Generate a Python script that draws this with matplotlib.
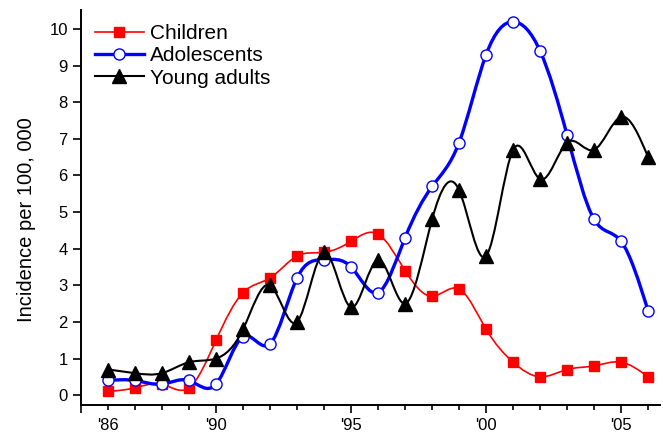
import numpy as np
import matplotlib.pyplot as plt
from matplotlib.path import Path
from matplotlib.patches import PathPatch
from matplotlib.lines import Line2D
from matplotlib.ticker import FixedLocator, FixedFormatter

plt.rcParams['font.family'] = ['Liberation Sans', 'DejaVu Sans']

years = list(range(1986, 2007))
children = [0.1, 0.2, 0.3, 0.2, 1.5, 2.8, 3.2, 3.8, 3.9, 4.2, 4.4,
            3.4, 2.7, 2.9, 1.8, 0.9, 0.5, 0.7, 0.8, 0.9, 0.5]
adolescents = [0.4, 0.4, 0.3, 0.4, 0.3, 1.6, 1.4, 3.2, 3.7, 3.5, 2.8,
               4.3, 5.7, 6.9, 9.3, 10.2, 9.4, 7.1, 4.8, 4.2, 2.3]
young_adults = [0.7, 0.6, 0.6, 0.9, 1.0, 1.8, 3.0, 2.0, 3.9, 2.4, 3.7,
                2.5, 4.8, 5.6, 3.8, 6.7, 5.9, 6.9, 6.7, 7.6, 6.5]

major_years = [1985, 1990, 1995, 2000, 2005]
major_labels = ['', "'90", "'95", "'00", "'05"]
minor_years = [y for y in years if y not in major_years]
minor_labels = ["'86" if y == 1986 else '' for y in minor_years]


def smooth_path(x, y):
    # natural cubic spline through the points, drawn as bezier segments
    x = np.asarray(x, float)
    y = np.asarray(y, float)
    n = len(x)
    h = np.diff(x)
    A = np.zeros((n, n))
    b = np.zeros(n)
    A[0, 0], A[0, 1] = 2 / h[0], 1 / h[0]
    b[0] = 3 * (y[1] - y[0]) / h[0] ** 2
    A[-1, -2], A[-1, -1] = 1 / h[-1], 2 / h[-1]
    b[-1] = 3 * (y[-1] - y[-2]) / h[-1] ** 2
    for i in range(1, n - 1):
        A[i, i - 1] = 1 / h[i - 1]
        A[i, i] = 2 / h[i - 1] + 2 / h[i]
        A[i, i + 1] = 1 / h[i]
        b[i] = 3 * ((y[i] - y[i - 1]) / h[i - 1] ** 2 + (y[i + 1] - y[i]) / h[i] ** 2)
    m = np.linalg.solve(A, b)
    verts = [(x[0], y[0])]
    codes = [Path.MOVETO]
    for i in range(n - 1):
        d = h[i] / 3
        verts += [(x[i] + d, y[i] + d * m[i]),
                  (x[i + 1] - d, y[i + 1] - d * m[i + 1]),
                  (x[i + 1], y[i + 1])]
        codes += [Path.CURVE4] * 3
    return Path(verts, codes)


fig = plt.figure(figsize=(6.63, 4.41), dpi=100)
ax = fig.add_axes([0.1222, 0.0816, 0.8733, 0.8957])

series = [
    ('Children', children, '#FF0000', 1.2, dict(marker='s', ms=7, mfc='#FF0000', mec='#FF0000')),
    ('Adolescents', adolescents, '#0000FF', 2.4, dict(marker='o', ms=8, mfc='white', mec='#0000FF', mew=1.0)),
    ('Young adults', young_adults, 'black', 1.5, dict(marker='^', ms=10, mfc='black', mec='black')),
]

handles = []
for i, (name, vals, col, lw, mk) in enumerate(series):
    patch = PathPatch(smooth_path(years, vals), facecolor='none', edgecolor=col,
                      linewidth=lw, zorder=2 + 2 * i)
    ax.add_patch(patch)
    ax.plot(years, vals, linestyle='none', zorder=3 + 2 * i, **mk)
    handles.append(Line2D([], [], color=col, linewidth=lw, **mk))

ax.set_xlim(1985, 2006.44)
ax.set_ylim(-0.27, 10.52)

for s in ['top', 'right']:
    ax.spines[s].set_visible(False)
for s in ['left', 'bottom']:
    ax.spines[s].set_linewidth(1.4)

ax.xaxis.set_major_locator(FixedLocator(major_years))
ax.xaxis.set_major_formatter(FixedFormatter(major_labels))
ax.xaxis.set_minor_locator(FixedLocator(minor_years))
ax.xaxis.set_minor_formatter(FixedFormatter(minor_labels))
ax.set_yticks(range(0, 11))

ax.tick_params(axis='both', which='major', direction='out', length=6, width=1.2,
               labelsize=12, pad=3.5)
ax.tick_params(axis='x', which='minor', direction='out', length=3.5, width=1.2,
               labelsize=12, pad=6)

ax.set_ylabel('Incidence per 100, 000', fontsize=14.5)
ax.yaxis.set_label_coords(-0.077, 0.47)

ax.legend(handles, [s[0] for s in series], loc='upper left',
          bbox_to_anchor=(0.1433, 0.945), bbox_transform=fig.transFigure,
          frameon=False, fontsize=15, borderpad=0, borderaxespad=0,
          handlelength=2.35, handletextpad=0.3, labelspacing=0.15)

fig.savefig('out.png', dpi=100)
